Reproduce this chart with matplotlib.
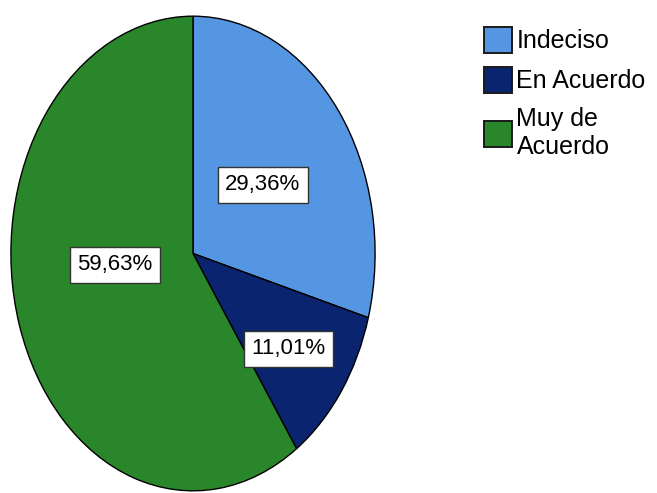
import matplotlib
matplotlib.use("Agg")
import matplotlib.pyplot as plt
import numpy as np
from matplotlib.patches import Patch

categories = ["Indeciso", "En Acuerdo", "Muy de\nAcuerdo"]
values = [29.36, 11.01, 59.63]
pct_labels = ["29,36%", "11,01%", "59,63%"]
colors = ["#5596E2", "#0B246F", "#2A862B"]
label_radius = [0.48, 0.66, 0.43]
label_angle_shift = [0.0, -2.0, -11.0]

plt.rcParams['font.family'] = ['Liberation Sans', 'DejaVu Sans']

W, H = 657, 493
fig = plt.figure(figsize=(W / 100, H / 100), dpi=100)
ax = fig.add_axes([10 / W, 1 / H, 366 / W, 477 / H])
wedges, _ = ax.pie(values, colors=colors, startangle=90, counterclock=False,
                   wedgeprops=dict(edgecolor="black", linewidth=1.0),
                   radius=1.0, frame=False)
ax.set_aspect('auto')
ax.set_xlim(-1.005, 1.005)
ax.set_ylim(-1.005, 1.005)
ax.axis('off')

for w, lab, r, sh in zip(wedges, pct_labels, label_radius, label_angle_shift):
    ang = np.deg2rad((w.theta1 + w.theta2) / 2 + sh)
    ax.text(r * np.cos(ang), r * np.sin(ang), lab, ha='center', va='center',
            fontsize=16, color='black',
            bbox=dict(boxstyle='square,pad=0.33', facecolor='white',
                      edgecolor='#333333', linewidth=1.0))

handles = [Patch(facecolor=c, edgecolor='#1a1a1a', linewidth=1.4) for c in colors]
leg = fig.legend(handles, categories, loc='upper left',
                 bbox_to_anchor=(484 / W, 1 - 27 / H), frameon=False,
                 fontsize=18, handlelength=1.1, handleheight=1.2,
                 handletextpad=0.2, labelspacing=0.55, borderpad=0,
                 borderaxespad=0)

fig.savefig("out.png", dpi=100)
